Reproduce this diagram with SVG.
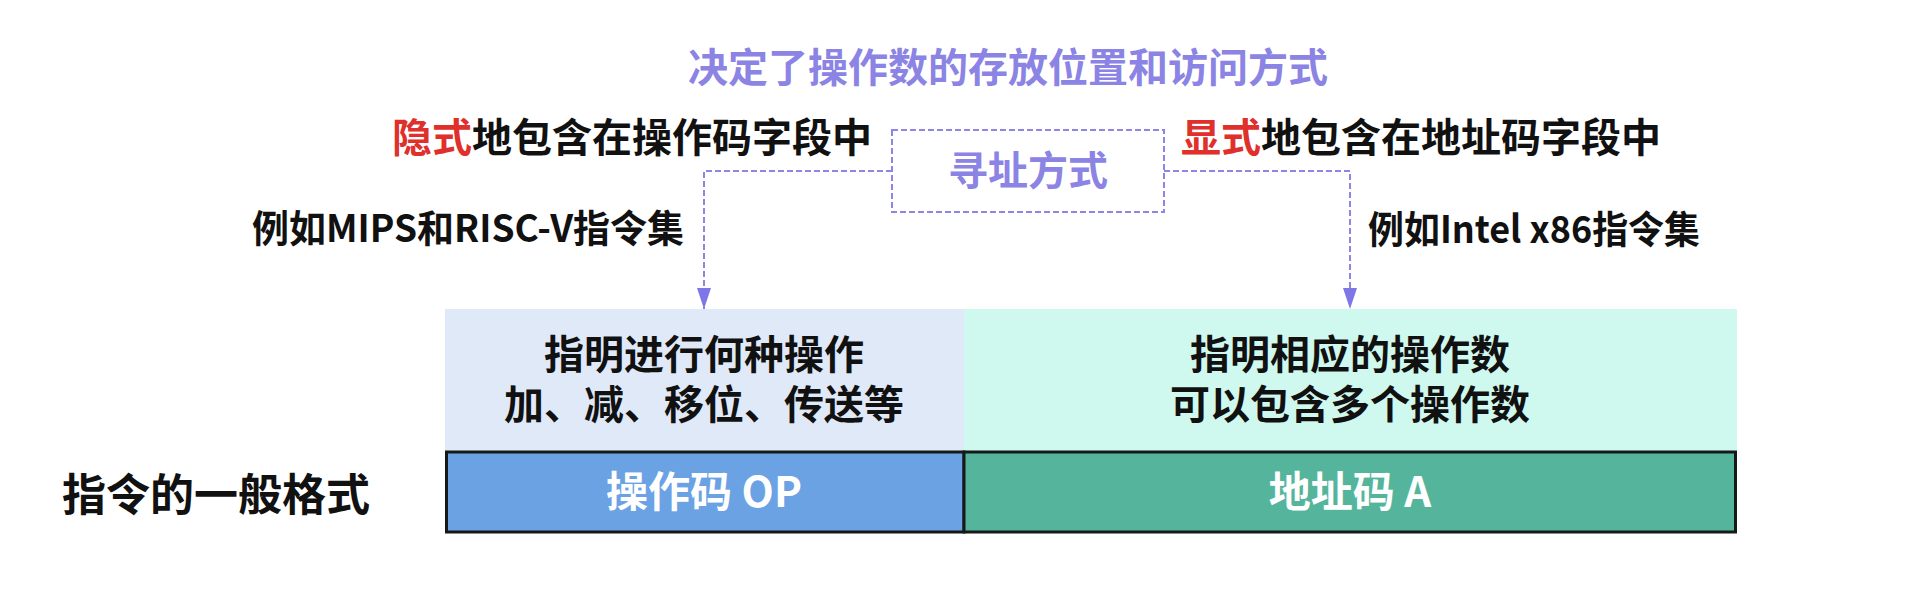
<svg xmlns="http://www.w3.org/2000/svg" width="1918" height="602" viewBox="0 0 1918 602">
<defs>
<style>
.t{font-family:"Noto Sans CJK SC","Liberation Sans",sans-serif;font-weight:700;}
.blk{fill:#111111;}
.pur{fill:#8b84e4;}
.red{fill:#e0302c;}
.wht{fill:#ffffff;}
.dash{fill:none;stroke:#8d86e6;stroke-width:2;stroke-dasharray:6 3;}
.code{stroke:#151a18;stroke-width:3;}
</style>
<marker id="arr" markerUnits="userSpaceOnUse" markerWidth="22" markerHeight="16" refX="21" refY="7" orient="auto" viewBox="0 0 22 14">
<path d="M0,0 L21,7 L0,14 Z" fill="#7f77e6"/>
</marker>
</defs>
<rect width="1918" height="602" fill="#ffffff"/>

<g id="title">
<text class="t pur" x="1008" y="82" font-size="40" text-anchor="middle">决定了操作数的存放位置和访问方式</text>
</g>

<g id="implicit">
<text class="t blk" x="392" y="152" font-size="40"><tspan class="red">隐式</tspan>地包含在操作码字段中</text>
</g>

<g id="explicit">
<text class="t blk" x="1181" y="152" font-size="40"><tspan class="red">显式</tspan>地包含在地址码字段中</text>
</g>

<g id="addressing">
<rect class="dash" x="892" y="130" width="272" height="82"/>
<text class="t pur" x="1028" y="185" font-size="40" text-anchor="middle">寻址方式</text>
</g>

<g id="ex-left">
<text class="t blk" x="252" y="242" font-size="38" textLength="432" lengthAdjust="spacingAndGlyphs">例如MIPS和RISC-V指令集</text>
</g>

<g id="ex-right">
<text class="t blk" x="1368" y="243" font-size="38" textLength="332" lengthAdjust="spacingAndGlyphs">例如Intel x86指令集</text>
</g>

<g id="connectors">
<path class="dash" d="M892,171 H704 V309" marker-end="url(#arr)"/>
<path class="dash" d="M1164,171 H1350 V309" marker-end="url(#arr)"/>
</g>

<g id="op-desc">
<rect x="445" y="309" width="519" height="142" fill="#dfe9f8"/>
<text class="t blk" x="704" y="369" font-size="40" text-anchor="middle">指明进行何种操作</text>
<text class="t blk" x="704" y="419" font-size="40" text-anchor="middle">加、减、移位、传送等</text>
</g>

<g id="addr-desc">
<rect x="964" y="309" width="773" height="142" fill="#cff8ee"/>
<text class="t blk" x="1350" y="369" font-size="40" text-anchor="middle">指明相应的操作数</text>
<text class="t blk" x="1350" y="419" font-size="40" text-anchor="middle">可以包含多个操作数</text>
</g>

<g id="op">
<rect class="code" x="446.5" y="452" width="517.5" height="80" fill="#6aa2e3"/>
<text class="t wht" x="704" y="507" font-size="42" text-anchor="middle">操作码 OP</text>
</g>

<g id="addr">
<rect class="code" x="964" y="452" width="771.5" height="80" fill="#55b59c"/>
<text class="t wht" x="1350" y="507" font-size="42" text-anchor="middle">地址码 A</text>
</g>

<g id="format-label">
<text class="t blk" x="62" y="511" font-size="44">指令的一般格式</text>
</g>
</svg>
